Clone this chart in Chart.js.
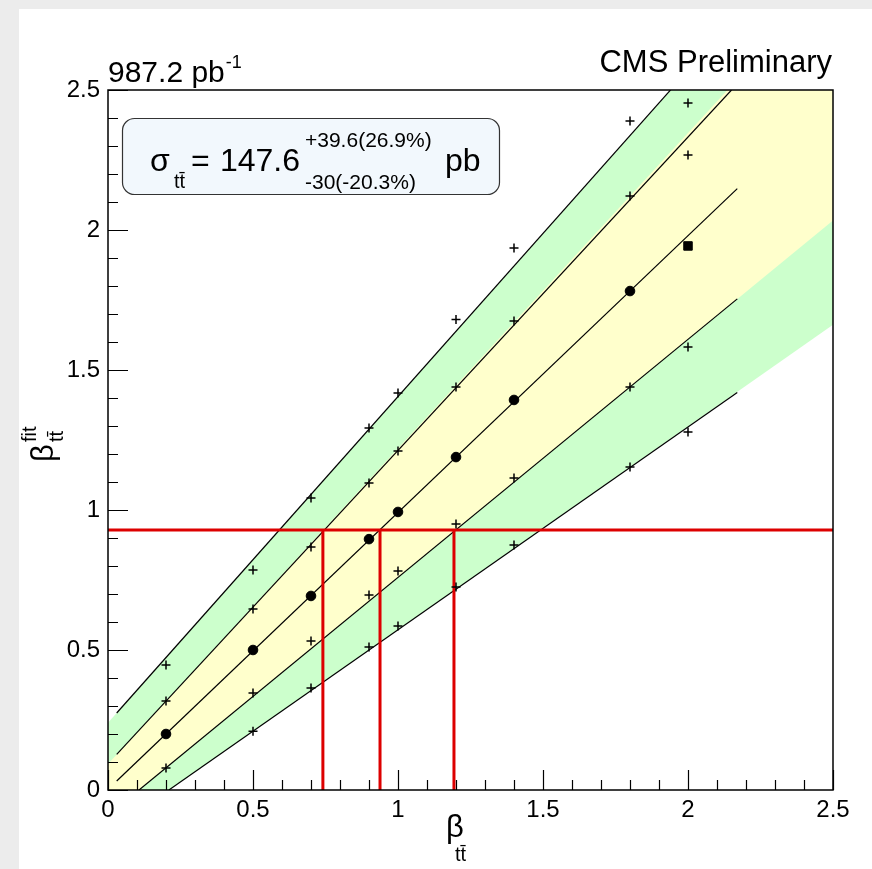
<!DOCTYPE html>
<html>
<head>
<meta charset="utf-8">
<script src="https://cdn.jsdelivr.net/npm/chart.js@4.4.1/dist/chart.umd.min.js"></script>
<style>
  html, body { margin: 0; padding: 0; overflow: hidden; background: #ececec; }
  canvas { display: block; }
</style>
</head>
<body>
<canvas id="plot" width="872" height="869"></canvas>
<script>
// --- data ---
const bandX = [0, 2.5];
const band2Upper = [0.24, 3.15];   // green band edges
const band2Lower = [-0.153, 1.662];
const band1Upper = [0.093, 2.91];  // yellow band edges
const band1Lower = [-0.091, 2.034];

const lineUp2X = [0.03, 1.95], lineUp2Y = [0.275, 2.512];
const lineUp1X = [0.03, 2.15], lineUp1Y = [0.127, 2.50];
const lineMidX = [0.03, 2.17], lineMidY = [0.032, 2.148];
const lineLo1X = [0.107, 2.17], lineLo1Y = [0.0, 1.754];
const lineLo2X = [0.21, 2.17], lineLo2Y = [0.0, 1.42];

const genX = [0.2, 0.5, 0.7, 0.9, 1.0, 1.2, 1.4, 1.8, 2.0];
const fitUp2 = [0.446, 0.786, 1.043, 1.293, 1.418, 1.68, 1.936, 2.389, 2.454];
const fitUp1 = [0.318, 0.646, 0.868, 1.096, 1.211, 1.439, 1.675, 2.121, 2.268];
const fitMid = [0.2, 0.5, 0.693, 0.896, 0.993, 1.189, 1.393, 1.782, 1.943];
const fitLo1 = [0.079, 0.346, 0.532, 0.696, 0.782, 0.95, 1.114, 1.439, 1.582];
const genXLo2 = [0.5, 0.7, 0.9, 1.0, 1.2, 1.4, 1.8, 2.0];
const fitLo2 = [0.21, 0.364, 0.511, 0.586, 0.725, 0.875, 1.154, 1.279];

const measuredFit = 0.929;                   // horizontal red line
const extractedBeta = [0.741, 0.938, 1.193]; // vertical red lines

const FONT = "'Liberation Sans', Arial, sans-serif";
const pts = (xs, ys) => xs.map((x, i) => ({ x: x, y: ys[i] }));

function lineDs(xs, ys) {
    return { data: pts(xs, ys), showLine: true, borderColor: "#000", borderWidth: 1.2,
             pointRadius: 0, fill: false, order: 5 };
}
function crossDs(xs, ys) {
    return { data: pts(xs, ys), showLine: false, pointStyle: "cross", pointRadius: 4.5,
             borderColor: "#000", borderWidth: 1.5, order: 1 };
}

const datasets = [
    // green band
    { data: pts(bandX, band2Upper), showLine: true, borderWidth: 0, pointRadius: 0,
      fill: "+1", backgroundColor: "#ccffcc", order: 10 },
    { data: pts(bandX, band2Lower), showLine: true, borderWidth: 0, pointRadius: 0,
      fill: false, order: 10 },
    // yellow band
    { data: pts(bandX, band1Upper), showLine: true, borderWidth: 0, pointRadius: 0,
      fill: "+1", backgroundColor: "#ffffcc", order: 9 },
    { data: pts(bandX, band1Lower), showLine: true, borderWidth: 0, pointRadius: 0,
      fill: false, order: 9 },
    lineDs(lineUp2X, lineUp2Y),
    lineDs(lineUp1X, lineUp1Y),
    lineDs(lineMidX, lineMidY),
    lineDs(lineLo1X, lineLo1Y),
    lineDs(lineLo2X, lineLo2Y),
    crossDs(genX, fitUp2),
    crossDs(genX, fitUp1),
    crossDs(genX, fitLo1),
    crossDs(genXLo2, fitLo2),
    { data: pts(genX, fitMid), showLine: false,
      pointStyle: genX.map((x, i) => i === genX.length - 1 ? "rect" : "circle"),
      pointRadius: genX.map((x, i) => i === genX.length - 1 ? 6 : 4.8),
      backgroundColor: "#000", borderColor: "#000", borderWidth: 1, order: 1 },
    // red lines
    { data: [{ x: 0, y: measuredFit }, { x: 2.5, y: measuredFit }], showLine: true,
      borderColor: "#dd0000", borderWidth: 3, pointRadius: 0, order: 2 },
    ...extractedBeta.map(b => ({
        data: [{ x: b, y: 0 }, { x: b, y: measuredFit }], showLine: true,
        borderColor: "#dd0000", borderWidth: 3, pointRadius: 0, order: 2 }))
];

// background, frame, inward ticks and all annotation text
const decorations = {
    id: "decorations",
    beforeDraw(chart) {
        const ctx = chart.ctx;
        ctx.save();
        ctx.fillStyle = "#ececec";
        ctx.fillRect(0, 0, chart.width, chart.height);
        ctx.fillStyle = "#ffffff";
        ctx.fillRect(19, 9, chart.width - 19, chart.height - 9);
        ctx.restore();
    },
    afterDatasetsDraw(chart) {
        const ctx = chart.ctx;
        const a = chart.chartArea;
        const xs = chart.scales.x, ys = chart.scales.y;
        ctx.save();
        ctx.strokeStyle = "#000";
        ctx.lineWidth = 1.5;
        ctx.strokeRect(a.left, a.top, a.right - a.left, a.bottom - a.top);
        ctx.lineWidth = 1.2;
        ctx.beginPath();
        for (let i = 0; i <= 25; i++) {
            const len = i % 5 === 0 ? 20 : 10;
            const px = Math.round(xs.getPixelForValue(i / 10)) + 0.5;
            ctx.moveTo(px, a.bottom);
            ctx.lineTo(px, a.bottom - len);
            const py = Math.round(ys.getPixelForValue(i / 10)) + 0.5;
            ctx.moveTo(a.left, py);
            ctx.lineTo(a.left + len, py);
        }
        ctx.stroke();

        ctx.fillStyle = "#000";
        ctx.textBaseline = "alphabetic";
        // top-left luminosity
        ctx.textAlign = "left";
        ctx.font = "30px " + FONT;
        ctx.fillText("987.2 pb", 108, 82);
        const w = ctx.measureText("987.2 pb").width;
        ctx.font = "18px " + FONT;
        ctx.fillText("-1", 108 + w + 1, 68);
        // top-right label
        ctx.textAlign = "right";
        ctx.font = "31px " + FONT;
        ctx.fillText("CMS Preliminary", 832, 72);

        // result box
        ctx.beginPath();
        ctx.roundRect(122.5, 118.5, 377, 76, 12);
        ctx.fillStyle = "#f2f8fd";
        ctx.fill();
        ctx.strokeStyle = "#333";
        ctx.lineWidth = 1.2;
        ctx.stroke();
        ctx.fillStyle = "#000";
        ctx.textAlign = "left";
        ctx.font = "32px " + FONT;
        ctx.fillText("σ", 150, 171);
        ctx.font = "20px " + FONT;
        ctx.fillText("tt\u0304", 174, 188);
        ctx.font = "32px " + FONT;
        ctx.fillText("=", 191, 171);
        ctx.textAlign = "right";
        ctx.fillText("147.6", 300, 171);
        ctx.textAlign = "left";
        ctx.font = "21px " + FONT;
        ctx.fillText("+39.6(26.9%)", 305, 147);
        ctx.fillText("-30(-20.3%)", 305, 189);
        ctx.font = "32px " + FONT;
        ctx.fillText("pb", 445, 171);

        // x axis title
        ctx.font = "31px " + FONT;
        ctx.fillText("β", 446, 837);
        ctx.font = "20px " + FONT;
        ctx.fillText("tt\u0304", 455, 861);

        // y axis title (rotated)
        ctx.translate(53, 462);
        ctx.rotate(-Math.PI / 2);
        ctx.font = "31px " + FONT;
        ctx.fillText("β", 0, 0);
        ctx.font = "20px " + FONT;
        ctx.fillText("tt\u0304", 20, 10);
        ctx.fillText("fit", 20, -17);
        ctx.restore();
    }
};

new Chart(document.getElementById("plot").getContext("2d"), {
    type: "scatter",
    data: { datasets: datasets },
    options: {
        responsive: false,
        animation: false,
        devicePixelRatio: 1,
        layout: { padding: { left: 0, top: 90, right: 39, bottom: 0 } },
        plugins: { legend: { display: false }, tooltip: { enabled: false } },
        elements: { line: { tension: 0 } },
        scales: {
            x: {
                type: "linear", min: 0, max: 2.5,
                grid: { display: false, drawTicks: false },
                border: { display: false },
                ticks: { stepSize: 0.5, padding: 6, color: "#000",
                         font: { family: FONT, size: 24 },
                         callback: v => String(v) },
                afterFit: s => { s.height = 79; }
            },
            y: {
                type: "linear", min: 0, max: 2.5,
                grid: { display: false, drawTicks: false },
                border: { display: false },
                ticks: { stepSize: 0.5, padding: 8, color: "#000",
                         font: { family: FONT, size: 24 },
                         callback: v => String(v) },
                afterFit: s => { s.width = 108; }
            }
        }
    },
    plugins: [decorations]
});
</script>
</body>
</html>
